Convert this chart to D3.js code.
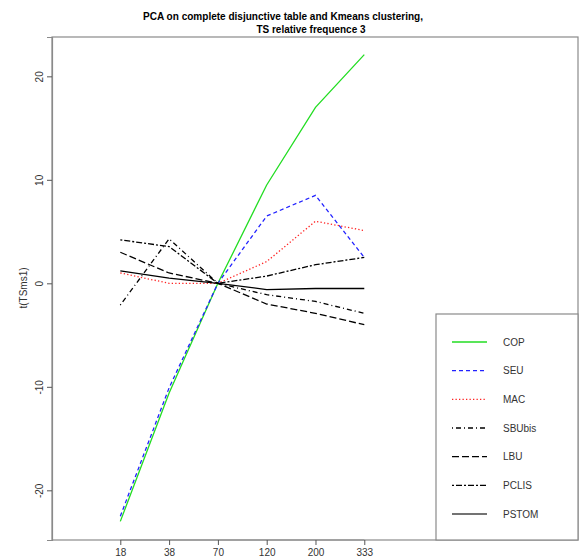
<!DOCTYPE html>
<html>
<head>
<meta charset="utf-8">
<script src="https://cdn.jsdelivr.net/npm/d3@7"></script>
<style>
body { margin: 0; background: #fff; }
svg { display: block; }
text { font-family: "Liberation Sans", Arial, Helvetica, sans-serif; }
</style>
</head>
<body>
<svg id="chart" width="581" height="560"></svg>
<script>
// ---- data ----
const xLabels = ["18", "38", "70", "120", "200", "333"];
const seriesNames = ["COP", "SEU", "MAC", "SBUbis", "LBU", "PCLIS", "PSTOM"];
const COP    = [-23.0, -10.6, 0, 9.5, 17.0, 22.1];
const SEU    = [-22.5, -10.1, 0, 6.5, 8.5, 2.5];
const MAC    = [1.0, 0.0, 0, 2.1, 6.0, 5.1];
const SBUbis = [-2.1, 4.3, 0, -1.1, -1.75, -2.9];
const LBU    = [3.0, 1.0, 0, -2.0, -2.9, -4.0];
const PCLIS  = [4.2, 3.55, 0, 0.7, 1.8, 2.5];
const PSTOM  = [1.2, 0.5, 0, -0.6, -0.5, -0.5];
const yTicks = [-20, -10, 0, 10, 20];

const seriesValues = [COP, SEU, MAC, SBUbis, LBU, PCLIS, PSTOM];
const seriesColors = ["#22dd22", "#2222ff", "#ff2222", "#000", "#000", "#000", "#000"];
const seriesDash = [null, "4,3", "1.3,2.2", "1,3,5,3", "7,3", "2,2,6,2", null];

const svg = d3.select("#chart");
const pLeft = 52, pRight = 578, pTop = 37, pBottom = 540;

const x = d3.scaleLinear().domain([-0.4, 10.38]).range([pLeft, pRight]);
const y = d3.scaleLinear().domain([-24.8, 23.8]).range([pBottom, pTop]);

// box
svg.append("rect").attr("x", pLeft).attr("y", pTop)
  .attr("width", pRight - pLeft).attr("height", pBottom - pTop)
  .attr("fill", "none").attr("stroke", "#8a8a8a").attr("stroke-width", 1.2);

// y axis
const yAxis = d3.axisLeft(y).tickValues(yTicks).tickSize(5).tickFormat(d => String(d));
const gy = svg.append("g").attr("transform", `translate(${pLeft},0)`).call(yAxis);
gy.select(".domain").attr("stroke", "#8a8a8a").attr("stroke-width", 1.2);
gy.selectAll(".tick line").attr("stroke", "#555");
gy.selectAll(".tick text")
  .attr("x", 0).attr("dy", 0).attr("dx", 0)
  .attr("text-anchor", "middle")
  .attr("transform", "translate(-9,0) rotate(-90)")
  .attr("fill", "#333").attr("font-size", 10)
  .style("font-family", "'Liberation Sans', Arial, sans-serif");

// x axis
const idx = d3.range(xLabels.length).map(i => i + 1);
const xAxis = d3.axisBottom(x).tickValues(idx).tickSize(5).tickFormat(d => xLabels[d - 1]);
const gx = svg.append("g").attr("transform", `translate(0,${pBottom})`).call(xAxis);
gx.select(".domain").attr("stroke", "#8a8a8a").attr("stroke-width", 1.2)
  .attr("d", `M${x(1)},0H${x(6)}`);
gx.selectAll(".tick line").attr("stroke", "#555");
gx.selectAll(".tick text").attr("y", 15.5).attr("dy", 0).attr("fill", "#333").attr("font-size", 10)
  .style("font-family", "'Liberation Sans', Arial, sans-serif");

// y label
svg.append("text")
  .attr("transform", `translate(27,288) rotate(-90)`)
  .attr("text-anchor", "middle").attr("font-size", 10).attr("fill", "#333")
  .text("t(TSms1)");

// title
svg.append("text").attr("x", 283).attr("y", 19.5).attr("text-anchor", "middle")
  .attr("font-size", 11).attr("font-weight", "bold").attr("fill", "#000")
  .attr("textLength", 280).attr("lengthAdjust", "spacingAndGlyphs")
  .text("PCA on complete disjunctive table and Kmeans clustering,");
svg.append("text").attr("x", 311).attr("y", 32.5).attr("text-anchor", "middle")
  .attr("font-size", 11).attr("font-weight", "bold").attr("fill", "#000")
  .attr("textLength", 109).attr("lengthAdjust", "spacingAndGlyphs")
  .text("TS relative frequence 3");

// lines
const line = d3.line().x((d, i) => x(i + 1)).y(d => y(d));
const g = svg.append("g");
seriesValues.forEach((vals, k) => {
  g.append("path").datum(vals)
    .attr("d", line)
    .attr("fill", "none")
    .attr("stroke", seriesColors[k])
    .attr("stroke-width", 1.3)
    .attr("stroke-dasharray", seriesDash[k]);
});

// legend
const lgX = 436, lgY = 314;
svg.append("rect").attr("x", lgX).attr("y", lgY)
  .attr("width", pRight - lgX).attr("height", pBottom - lgY)
  .attr("fill", "#fff").attr("stroke", "#8a8a8a").attr("stroke-width", 1.2);
seriesNames.forEach((name, k) => {
  const yy = 342 + k * 28.67;
  svg.append("line").attr("x1", 452).attr("x2", 487).attr("y1", yy).attr("y2", yy)
    .attr("stroke", k === 6 ? "#444" : seriesColors[k]).attr("stroke-width", 1.3)
    .attr("stroke-dasharray", seriesDash[k]);
  svg.append("text").attr("x", 503).attr("y", yy + 3.5)
    .attr("font-size", 10).attr("fill", "#333").text(name);
});
</script>
</body>
</html>
